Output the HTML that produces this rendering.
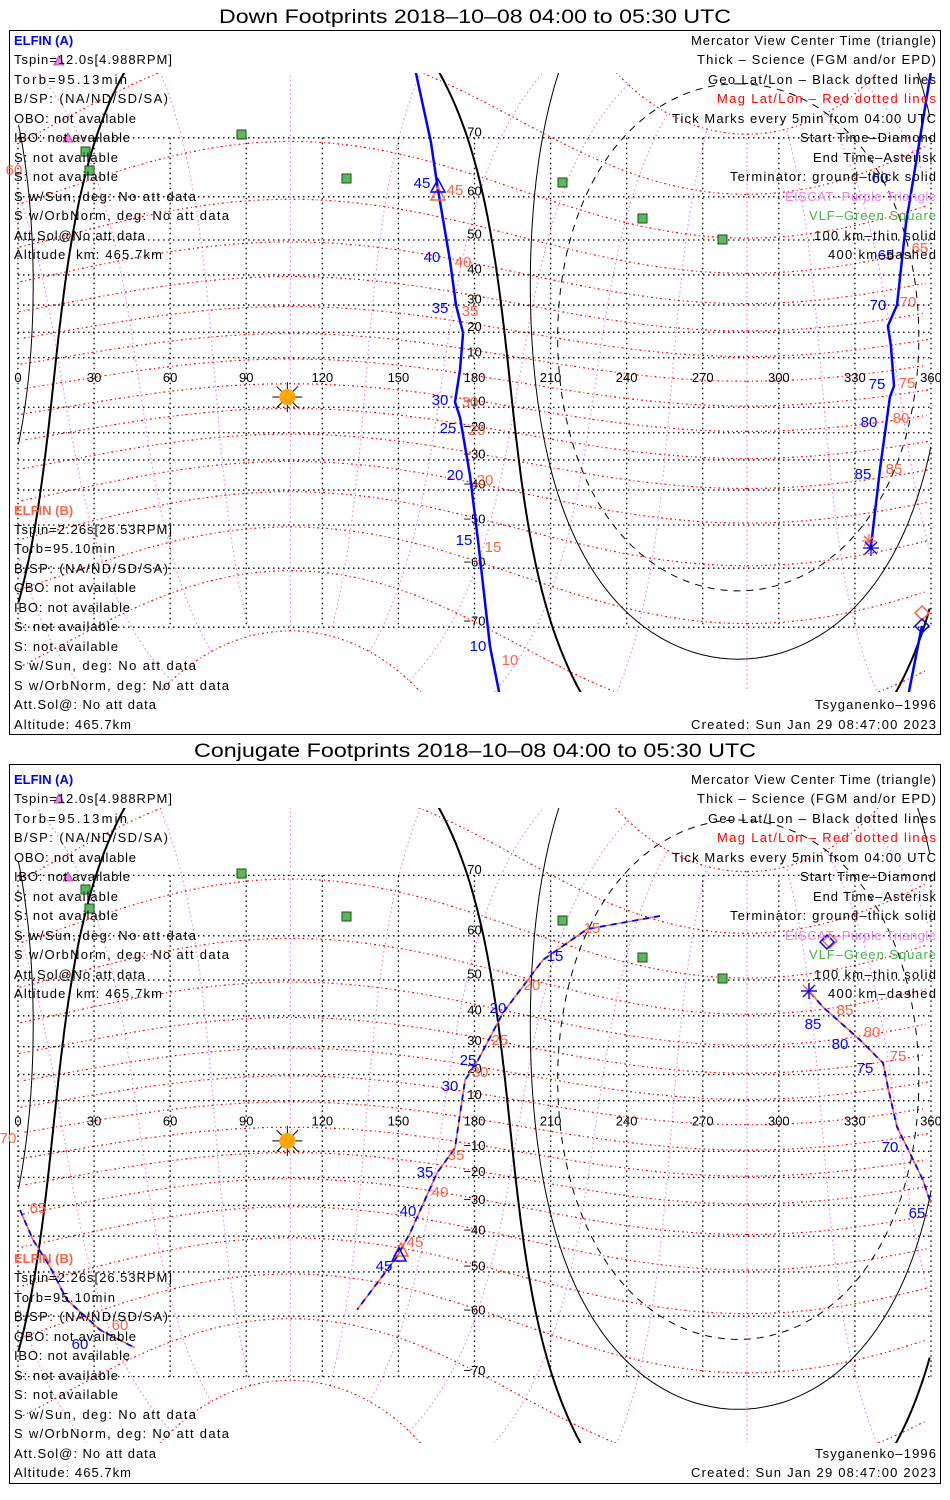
<!DOCTYPE html>
<html><head><meta charset="utf-8">
<style>
html,body{margin:0;padding:0;background:#fff;width:950px;height:1500px;overflow:hidden;}
svg{display:block;}
text{font-family:"Liberation Sans",sans-serif;}
</style></head>
<body>
<svg id="chart" width="950" height="1500" viewBox="0 0 950 1500" xmlns="http://www.w3.org/2000/svg">
<defs>
<clipPath id="clipTop"><rect x="10" y="73" width="930" height="619"/></clipPath>
<clipPath id="clipBot"><rect x="10" y="808" width="930" height="635"/></clipPath>
</defs>
<rect x="0" y="0" width="950" height="1500" fill="#fff"/>
<text x="475" y="23" font-size="19" text-anchor="middle" textLength="512" lengthAdjust="spacingAndGlyphs">Down Footprints 2018–10–08 04:00 to 05:30 UTC</text>
<text x="475" y="757" font-size="19" text-anchor="middle" textLength="562" lengthAdjust="spacingAndGlyphs">Conjugate Footprints 2018–10–08 04:00 to 05:30 UTC</text>
<rect x="9.5" y="30.5" width="931" height="704" fill="none" stroke="#000" stroke-width="1"/>
<rect x="9.5" y="764.5" width="931" height="719" fill="none" stroke="#000" stroke-width="1"/>
<g id="top-map" clip-path="url(#clipTop)"></g>
<g id="bot-map" clip-path="url(#clipBot)"></g>
<g>
  <g fill="#5cb85c" stroke="#1a4d1a" stroke-width="1">
    <rect x="237" y="130" width="9" height="9"/>
    <rect x="81" y="147" width="9" height="9"/>
    <rect x="85" y="166" width="9" height="9"/>
    <rect x="342" y="174" width="9" height="9"/>
    <rect x="558" y="178" width="9" height="9"/>
    <rect x="638" y="214" width="9" height="9"/>
    <rect x="718" y="235" width="9" height="9"/>
    <rect x="237" y="869" width="9" height="9"/>
    <rect x="81" y="885" width="9" height="9"/>
    <rect x="85" y="904" width="9" height="9"/>
    <rect x="342" y="912" width="9" height="9"/>
    <rect x="558" y="916" width="9" height="9"/>
    <rect x="638" y="953" width="9" height="9"/>
    <rect x="718" y="974" width="9" height="9"/>
  </g>
  <g fill="#ee82ee" stroke="#a040a0" stroke-width="0.8">
    <polygon points="59,56 54,65 64,65"/>
    <polygon points="68,133 63,142 73,142"/>
    <polygon points="59,794 54,803 64,803"/>
    <polygon points="68,872 63,881 73,881"/>
  </g>
  <polygon points="438,187 431,200 445,200" fill="none" stroke="#ff6347" stroke-width="1.5"/>
  <polygon points="438,179 431,192 445,192" fill="none" stroke="#0000ff" stroke-width="1.5"/>
  <polygon points="401,1243 394,1256 408,1256" fill="none" stroke="#ff6347" stroke-width="1.5"/>
  <polygon points="399,1248 392,1261 406,1261" fill="none" stroke="#0000ff" stroke-width="1.5"/>
  <polygon points="922,606 929,613 922,620 915,613" fill="none" stroke="#ff6347" stroke-width="1.5"/>
  <polygon points="922,619 929,626 922,633 915,626" fill="none" stroke="#0000ff" stroke-width="1.5"/>
  <polygon points="830,934 837,941 830,948 823,941" fill="none" stroke="#ff6347" stroke-width="1.5"/>
  <polygon points="827,935 834,942 827,949 820,942" fill="none" stroke="#0000ff" stroke-width="1.5"/>
  <g stroke="#ff6347" stroke-width="1.3">
    <line x1="862" y1="541" x2="876" y2="541"/><line x1="869" y1="534" x2="869" y2="548"/><line x1="864" y1="536" x2="874" y2="546"/><line x1="874" y1="536" x2="864" y2="546"/>
  </g>
  <g stroke="#0000ff" stroke-width="1.3">
    <line x1="863" y1="548" x2="879" y2="548"/><line x1="871" y1="540" x2="871" y2="556"/><line x1="865" y1="542" x2="877" y2="554"/><line x1="877" y1="542" x2="865" y2="554"/>
  </g>
  <g stroke="#ff6347" stroke-width="1.3">
    <line x1="801" y1="991" x2="817" y2="991"/><line x1="809" y1="983" x2="809" y2="999"/><line x1="803" y1="985" x2="815" y2="997"/>
  </g>
  <g stroke="#0000ff" stroke-width="1.3">
    <line x1="809" y1="983" x2="809" y2="999"/><line x1="815" y1="985" x2="803" y2="997"/><line x1="801" y1="991" x2="817" y2="991"/>
  </g>
</g>
<g font-size="15">
  <g fill="#0000ff">
    <text x="422" y="188" text-anchor="middle">45</text>
    <text x="432" y="262" text-anchor="middle">40</text>
    <text x="440" y="313" text-anchor="middle">35</text>
    <text x="440" y="405" text-anchor="middle">30</text>
    <text x="448" y="433" text-anchor="middle">25</text>
    <text x="455" y="480" text-anchor="middle">20</text>
    <text x="464" y="545" text-anchor="middle">15</text>
    <text x="478" y="651" text-anchor="middle">10</text>
    <text x="880" y="183" text-anchor="middle">60</text>
    <text x="886" y="260" text-anchor="middle">65</text>
    <text x="878" y="310" text-anchor="middle">70</text>
    <text x="877" y="389" text-anchor="middle">75</text>
    <text x="869" y="427" text-anchor="middle">80</text>
    <text x="863" y="479" text-anchor="middle">85</text>
    <text x="555" y="961" text-anchor="middle">15</text>
    <text x="498" y="1013" text-anchor="middle">20</text>
    <text x="468" y="1065" text-anchor="middle">25</text>
    <text x="450" y="1091" text-anchor="middle">30</text>
    <text x="425" y="1177" text-anchor="middle">35</text>
    <text x="408" y="1216" text-anchor="middle">40</text>
    <text x="384" y="1271" text-anchor="middle">45</text>
    <text x="813" y="1029" text-anchor="middle">85</text>
    <text x="840" y="1049" text-anchor="middle">80</text>
    <text x="865" y="1073" text-anchor="middle">75</text>
    <text x="890" y="1152" text-anchor="middle">70</text>
    <text x="917" y="1218" text-anchor="middle">65</text>
    <text x="80" y="1349" text-anchor="middle">60</text>
  </g>
  <g fill="#ff6347">
    <text x="14" y="175" text-anchor="middle">60</text>
    <text x="455" y="195" text-anchor="middle">45</text>
    <text x="463" y="267" text-anchor="middle">40</text>
    <text x="470" y="316" text-anchor="middle">35</text>
    <text x="470" y="407" text-anchor="middle">30</text>
    <text x="477" y="435" text-anchor="middle">25</text>
    <text x="485" y="485" text-anchor="middle">20</text>
    <text x="493" y="552" text-anchor="middle">15</text>
    <text x="510" y="665" text-anchor="middle">10</text>
    <text x="920" y="253" text-anchor="middle">65</text>
    <text x="908" y="307" text-anchor="middle">70</text>
    <text x="907" y="388" text-anchor="middle">75</text>
    <text x="901" y="423" text-anchor="middle">80</text>
    <text x="894" y="474" text-anchor="middle">85</text>
    <text x="592" y="933" text-anchor="middle">15</text>
    <text x="532" y="990" text-anchor="middle">20</text>
    <text x="500" y="1045" text-anchor="middle">25</text>
    <text x="480" y="1077" text-anchor="middle">30</text>
    <text x="456" y="1160" text-anchor="middle">35</text>
    <text x="440" y="1197" text-anchor="middle">40</text>
    <text x="415" y="1247" text-anchor="middle">45</text>
    <text x="845" y="1015" text-anchor="middle">85</text>
    <text x="872" y="1037" text-anchor="middle">80</text>
    <text x="898" y="1061" text-anchor="middle">75</text>
    <text x="8" y="1143" text-anchor="middle">70</text>
    <text x="38" y="1213" text-anchor="middle">65</text>
    <text x="120" y="1330" text-anchor="middle">60</text>
  </g>
</g>
<g font-size="13" fill="#000">
  <text x="14" y="45" fill="#0000ff" font-weight="bold">ELFIN (A)</text>
  <text x="14" y="64" textLength="158">Tspin=12.0s[4.988RPM]</text>
  <text x="14" y="84" textLength="113">Torb=95.13min</text>
  <text x="14" y="103" textLength="154">B/SP: (NA/ND/SD/SA)</text>
  <text x="14" y="123" textLength="122">OBO: not available</text>
  <text x="14" y="142" textLength="116">IBO: not available</text>
  <text x="14" y="162" textLength="104">S: not available</text>
  <text x="14" y="181" textLength="104">S: not available</text>
  <text x="14" y="201" textLength="182">S w/Sun, deg: No att data</text>
  <text x="14" y="220" textLength="215">S w/OrbNorm, deg: No att data</text>
  <text x="14" y="240" textLength="131">Att.Sol@No att data</text>
  <text x="14" y="259" textLength="148">Altitude, km: 465.7km</text>
  <text x="14" y="515" fill="#ff6347" font-weight="bold">ELFIN (B)</text>
  <text x="14" y="534" textLength="158">Tspin=2.26s[26.53RPM]</text>
  <text x="14" y="553" textLength="101">Torb=95.10min</text>
  <text x="14" y="573" textLength="154">B/SP: (NA/ND/SD/SA)</text>
  <text x="14" y="592" textLength="122">OBO: not available</text>
  <text x="14" y="612" textLength="116">IBO: not available</text>
  <text x="14" y="631" textLength="104">S: not available</text>
  <text x="14" y="651" textLength="104">S: not available</text>
  <text x="14" y="670" textLength="182">S w/Sun, deg: No att data</text>
  <text x="14" y="690" textLength="215">S w/OrbNorm, deg: No att data</text>
  <text x="14" y="709" textLength="142">Att.Sol@: No att data</text>
  <text x="14" y="729" textLength="117">Altitude: 465.7km</text>
</g>
<g font-size="13" fill="#000">
  <text x="14" y="784" fill="#0000ff" font-weight="bold">ELFIN (A)</text>
  <text x="14" y="803" textLength="158">Tspin=12.0s[4.988RPM]</text>
  <text x="14" y="823" textLength="113">Torb=95.13min</text>
  <text x="14" y="842" textLength="154">B/SP: (NA/ND/SD/SA)</text>
  <text x="14" y="862" textLength="122">OBO: not available</text>
  <text x="14" y="881" textLength="116">IBO: not available</text>
  <text x="14" y="901" textLength="104">S: not available</text>
  <text x="14" y="920" textLength="104">S: not available</text>
  <text x="14" y="940" textLength="182">S w/Sun, deg: No att data</text>
  <text x="14" y="959" textLength="215">S w/OrbNorm, deg: No att data</text>
  <text x="14" y="979" textLength="131">Att.Sol@No att data</text>
  <text x="14" y="998" textLength="148">Altitude, km: 465.7km</text>
  <text x="14" y="1263" fill="#ff6347" font-weight="bold">ELFIN (B)</text>
  <text x="14" y="1282" textLength="158">Tspin=2.26s[26.53RPM]</text>
  <text x="14" y="1302" textLength="101">Torb=95.10min</text>
  <text x="14" y="1321" textLength="154">B/SP: (NA/ND/SD/SA)</text>
  <text x="14" y="1341" textLength="122">OBO: not available</text>
  <text x="14" y="1360" textLength="116">IBO: not available</text>
  <text x="14" y="1380" textLength="104">S: not available</text>
  <text x="14" y="1399" textLength="104">S: not available</text>
  <text x="14" y="1419" textLength="182">S w/Sun, deg: No att data</text>
  <text x="14" y="1438" textLength="215">S w/OrbNorm, deg: No att data</text>
  <text x="14" y="1458" textLength="142">Att.Sol@: No att data</text>
  <text x="14" y="1477" textLength="117">Altitude: 465.7km</text>
</g>
<g font-size="13" fill="#000" text-anchor="end">
  <text x="936" y="45" textLength="245">Mercator View Center Time (triangle)</text>
  <text x="936" y="64" textLength="239">Thick – Science (FGM and/or EPD)</text>
  <text x="936" y="84" textLength="228">Geo Lat/Lon – Black dotted lines</text>
  <text x="936" y="103" textLength="219" fill="#ff0000">Mag Lat/Lon – Red dotted lines</text>
  <text x="936" y="123" textLength="264">Tick Marks every 5min from 04:00 UTC</text>
  <text x="936" y="142" textLength="136">Start Time–Diamond</text>
  <text x="936" y="162" textLength="123">End Time–Asterisk</text>
  <text x="936" y="181" textLength="206">Terminator: ground–thick solid</text>
  <text x="936" y="201" textLength="151" fill="#ee82ee">EISCAT–Purple Triangle</text>
  <text x="936" y="220" textLength="127" fill="#4caf50">VLF–Green Square</text>
  <text x="936" y="240" textLength="122">100 km–thin solid</text>
  <text x="936" y="259" textLength="108">400 km–dashed</text>
  <text x="936" y="709" textLength="121">Tsyganenko–1996</text>
  <text x="936" y="729" textLength="245">Created: Sun Jan 29 08:47:00 2023</text>
</g>
<g font-size="13" fill="#000" text-anchor="end">
  <text x="936" y="784" textLength="245">Mercator View Center Time (triangle)</text>
  <text x="936" y="803" textLength="239">Thick – Science (FGM and/or EPD)</text>
  <text x="936" y="823" textLength="228">Geo Lat/Lon – Black dotted lines</text>
  <text x="936" y="842" textLength="219" fill="#ff0000">Mag Lat/Lon – Red dotted lines</text>
  <text x="936" y="862" textLength="264">Tick Marks every 5min from 04:00 UTC</text>
  <text x="936" y="881" textLength="136">Start Time–Diamond</text>
  <text x="936" y="901" textLength="123">End Time–Asterisk</text>
  <text x="936" y="920" textLength="206">Terminator: ground–thick solid</text>
  <text x="936" y="940" textLength="151" fill="#ee82ee">EISCAT–Purple Triangle</text>
  <text x="936" y="959" textLength="127" fill="#4caf50">VLF–Green Square</text>
  <text x="936" y="979" textLength="122">100 km–thin solid</text>
  <text x="936" y="998" textLength="108">400 km–dashed</text>
  <text x="936" y="1458" textLength="121">Tsyganenko–1996</text>
  <text x="936" y="1477" textLength="245">Created: Sun Jan 29 08:47:00 2023</text>
</g>
</svg>
<script>
// ---- data arrays ----
const gridLats = [-70,-60,-50,-40,-30,-20,-10,10,20,30,40,50,60,70];
const gridLons = [0,30,60,90,120,150,180,210,240,270,300,330,360];
const lonTickLabels = ["0","30","60","90","120","150","180","210","240","270","300","330","360"];
const magLats = [-80,-70,-60,-50,-40,-30,-20,-10,0,10,20,30,40,50,60,70,80];
const magLons = [0,30,60,90,120,150,180,210,240,270,300,330];
const magPole = [80.5, 287.4];
const antiSolar = [6, 284];
const termRadii = [90, 80, 70.3];
const sunPos = [106.2, -5.9];
const downSeg1 = [[156.9,77.3],[162.8,69.4],[165.6,61.4],[170.3,44.5],[172.7,30.0],[175.5,19.7],[174.3,5.1],[172.3,-7.9],[174.3,-14.0],[178.2,-35.1],[181.4,-53.8],[186.1,-72.5],[189.7,-77.3]];
const downSeg2 = [[359.9,77.3],[350.1,54.0],[346.6,30.0],[343.0,22.4],[344.2,14.7],[345.4,-1.4],[343.8,-5.9],[339.9,-33.1],[336.3,-55.4]];
const downSeg3 = [[356.4,-69.8],[351.3,-77.3]];
const conjSeg1 = [[253.1,63.7],[224.4,61.3],[207.0,54.9],[191.2,40.9],[181.0,24.6],[176.3,18.0],[172.3,-8.7],[165.2,-18.3],[154.6,-39.0],[149.4,-46.0],[133.7,-58.7]];
const conjSeg2 = [[312.3,46.8],[317.4,42.6],[332.0,32.3],[341.1,24.2],[343.0,15.3],[346.6,-0.4],[351.7,-10.7],[356.8,-20.9],[359.9,-29.2]];
const conjSeg3 = [[0.8,-31.6],[5.9,-41.1],[12.6,-48.7],[19.3,-56.6],[32.3,-62.6],[46.1,-65.7]];

const D = Math.PI/180;
const X = lon => 18 + lon*2.5361;
function merc(lat){ lat = Math.max(-86, Math.min(86, lat)); return Math.log(Math.tan(Math.PI/4 + lat*D/2)); }
const panels = [
  {g: document.getElementById('top-map'), y0: 382.5, k: 141},
  {g: document.getElementById('bot-map'), y0: 1126, k: 144.4}
];
const NS = 'http://www.w3.org/2000/svg';
function mk(tag, attrs, parent){ const e = document.createElementNS(NS, tag); for (const a in attrs) e.setAttribute(a, attrs[a]); parent.appendChild(e); return e; }
function pathD(pts, P){
  let d = '', prev = null;
  for (const p of pts){
    let lon = ((p[0] % 360) + 360) % 360;
    const x = X(lon), y = P.y0 - P.k*merc(p[1]);
    if (prev === null || Math.abs(lon - prev) > 180) d += 'M' + x.toFixed(1) + ' ' + y.toFixed(1);
    else d += 'L' + x.toFixed(1) + ' ' + y.toFixed(1);
    prev = lon;
  }
  return d;
}
function mag2geo(mlat, mlon){
  const th = (90 - magPole[0])*D, lp = magPole[1]*D;
  let x = Math.cos(mlat*D)*Math.cos(mlon*D), y = Math.cos(mlat*D)*Math.sin(mlon*D), z = Math.sin(mlat*D);
  const x1 = x*Math.cos(th) + z*Math.sin(th), z1 = -x*Math.sin(th) + z*Math.cos(th);
  const x2 = x1*Math.cos(lp) - y*Math.sin(lp), y2 = x1*Math.sin(lp) + y*Math.cos(lp);
  return [Math.atan2(y2, x2)/D, Math.asin(Math.max(-1, Math.min(1, z1)))/D];
}
function smallCircle(c, r){
  const pts = [], pl = c[0]*D, pn = c[1]*D, rr = r*D;
  for (let t = 0; t <= 360; t += 1){
    const th = t*D;
    const lat = Math.asin(Math.sin(pl)*Math.cos(rr) + Math.cos(pl)*Math.sin(rr)*Math.cos(th));
    const lon = pn + Math.atan2(Math.sin(th)*Math.sin(rr)*Math.cos(pl), Math.cos(rr) - Math.sin(pl)*Math.sin(lat));
    pts.push([lon/D, lat/D]);
  }
  return pts;
}

for (const P of panels){
  const g = P.g;
  const Y = lat => P.y0 - P.k*merc(lat);
  for (const ml of magLons){
    const pts = [];
    for (let a = -80; a <= 80; a += 2) pts.push(mag2geo(a, ml));
    const e = mk('path', {d: pathD(pts, P), fill:'none', stroke:'#ee82ee', 'stroke-width':1.2, 'stroke-dasharray':'1.5 3'}, g);
    
    
  }
  for (const ma of magLats){
    const pts = [];
    for (let l = 0; l <= 360; l += 3) pts.push(mag2geo(ma, l));
    const e = mk('path', {d: pathD(pts, P), fill:'none', stroke:'#ff0000', 'stroke-width':1.2, 'stroke-dasharray':'2 3 1 3'}, g);
    
    
  }
  for (const la of gridLats){
    const e = mk('line', {x1:X(0), x2:X(360), y1:Y(la), y2:Y(la), stroke:'#000', 'stroke-width':1.3, 'stroke-dasharray':'1.5 3.5'}, g);
    
    
  }
  for (const lo of gridLons){
    const e = mk('line', {x1:X(lo), x2:X(lo), y1:Y(70), y2:Y(-70), stroke:'#000', 'stroke-width':1.3, 'stroke-dasharray':'1.5 3.5'}, g);
    
    
  }
  gridLons.forEach((lo, i) => {
    const e = mk('text', {x:X(lo), y:Y(0)-0.5, 'font-size':13, 'text-anchor':'middle', fill:'#000'}, g);
    e.textContent = lonTickLabels[i];
    
    
  });
  for (const la of gridLats){
    const e = mk('text', {x:X(180), y:Y(la)-1.5, 'font-size':13, 'text-anchor':'middle', fill:'#000'}, g);
    e.textContent = (la < 0 ? '−' : '') + Math.abs(la);
    
    
  }
  termRadii.forEach((r, i) => {
    const attrs = {d: pathD(smallCircle(antiSolar, r), P), fill:'none', stroke:'#000'};
    attrs['stroke-width'] = i === 0 ? 2 : 1;
    if (i === 2) attrs['stroke-dasharray'] = '7 6';
    const e = mk('path', attrs, g);
    
    
  });
  const sx = X(sunPos[0]), sy = Y(sunPos[1]);
  const sun = mk('g', {}, g);
  
  
  for (let a = 0; a < 360; a += 45){
    mk('line', {x1:sx, y1:sy, x2:sx + 15*Math.cos(a*D), y2:sy + 15*Math.sin(a*D), stroke:'#000', 'stroke-width':1}, sun);
  }
  mk('circle', {cx:sx, cy:sy, r:8, fill:'#ffa500'}, sun);
}

(function(){
  const P = panels[0];
  for (const seg of [downSeg1, downSeg2, downSeg3]){
    const e = mk('path', {d: pathD(seg, P), fill:'none', stroke:'#0000ff', 'stroke-width':2.5}, P.g);
    
    
  }
  const Q = panels[1];
  for (const seg of [conjSeg1, conjSeg2, conjSeg3]){
    const r = mk('path', {d: pathD(seg, Q), fill:'none', stroke:'#ff6347', 'stroke-width':1.6}, Q.g);
    
    
    const b = mk('path', {d: pathD(seg, Q), fill:'none', stroke:'#0000ff', 'stroke-width':1.8, 'stroke-dasharray':'6 5'}, Q.g);
    
    
  }
})();
</script>
</body></html>
